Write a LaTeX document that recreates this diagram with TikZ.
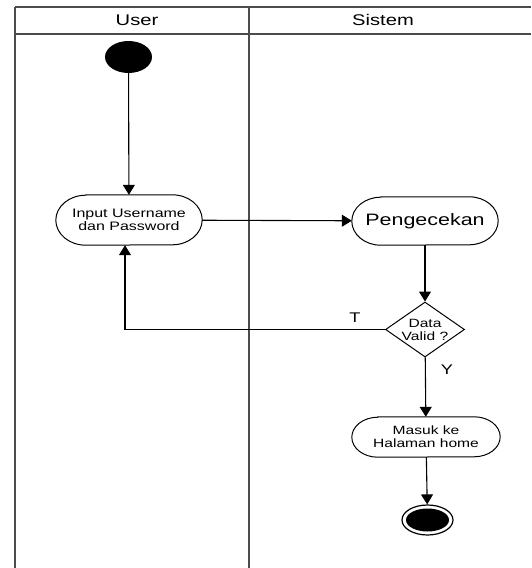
\documentclass[tikz,border=0pt]{standalone}
\usepackage{fontspec}
\setmainfont[FakeStretch=1.3]{Liberation Sans}
\usetikzlibrary{shapes.geometric,arrows.meta,calc}
% outline of an action node: straight top and bottom, elliptical ends
% #1 node name, #2 horizontal radius of the ends, #3 half of the node height
\newcommand\actoutline[3]{%
  \draw[actline] ([xshift=#2]#1.north west) -- ([xshift=-#2]#1.north east)
    arc[start angle=90,end angle=-90,x radius=#2,y radius=#3]
    -- ([xshift=#2]#1.south west)
    arc[start angle=270,end angle=90,x radius=#2,y radius=#3] -- cycle;}
\begin{document}
\begin{tikzpicture}[x=1pt,y=-1pt,
  lane/.style={draw=black!70,line width=1.3pt},
  lanetitle/.style={font=\fontsize{15.5}{18}\selectfont,inner sep=0pt},
  act/.style={align=center,inner sep=0pt},
  actline/.style={line width=1pt},
  decision/.style={draw,line width=1pt,diamond,shape aspect=1.44,minimum width=79pt,minimum height=55pt,inner sep=0pt,align=center,font=\fontsize{12}{13}\selectfont},
  flow/.style={line width=1.1pt,-{Triangle[length=10pt,width=12pt]}},
  guard/.style={font=\fontsize{14}{16}\selectfont,inner sep=0pt}]
\useasboundingbox (0,0) rectangle (531,568);

% swimlane frame
\draw[lane] (15,7) -- (531,7);
\draw[lane] (15,34) -- (531,34);
\draw[lane] (15,7) -- (15,568);
\draw[lane] (249,7) -- (249,568);
\node[lanetitle] (userlane) at (137,20) {User};
\node[lanetitle] (sistemlane) at (383,20) {Sistem};

% activities
\node[ellipse,fill=black,minimum width=47pt,minimum height=32pt,inner sep=0pt] (start) at (128.5,57) {};
\node[act,minimum width=146pt,minimum height=50pt,font=\fontsize{12.3}{13.5}\selectfont] (input) at (129,220) {Input Username\\dan Password};
\actoutline{input}{30pt}{25pt}
\node[act,minimum width=146pt,minimum height=48pt,font=\fontsize{16.5}{18}\selectfont] (cek) at (425,221) {Pengecekan};
\actoutline{cek}{29pt}{24pt}
\node[decision] (valid) at (425,329.5) {Data\\Valid ?};
\node[act,minimum width=148pt,minimum height=40pt,font=\fontsize{12}{13}\selectfont] (home) at (426,437) {Masuk ke\\Halaman home};
\actoutline{home}{26pt}{20pt}
\node[ellipse,draw,line width=1.2pt,minimum width=51pt,minimum height=30pt,inner sep=0pt] (end) at (427.5,520) {};
\node[ellipse,fill=black,minimum width=43pt,minimum height=23pt,inner sep=0pt] (endcore) at (end.center) {};

% control flow
\draw[flow] (start) -- (input);
\draw[flow] (input) -- (cek);
\draw[flow] (cek) -- (valid);
\draw[flow] (valid) -- (home);
\draw[flow] (home) -- (end);
\draw[flow] (valid.west) -| ([xshift=-4pt]input.south);
\node[guard] (tlabel) at (355,318) {T};
\node[guard] (ylabel) at (447,370) {Y};
\end{tikzpicture}
\end{document}
